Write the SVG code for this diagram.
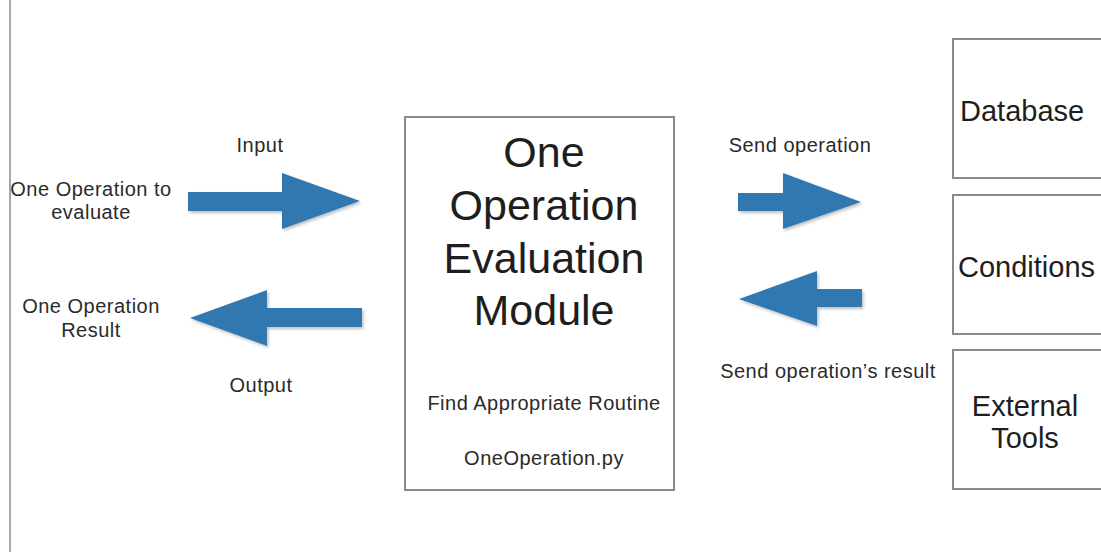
<svg xmlns="http://www.w3.org/2000/svg" width="1101" height="552" viewBox="0 0 1101 552">
  <style>
    .box { fill: #ffffff; stroke: #8a8a8a; stroke-width: 2; }
    .txt { font-family: "Liberation Sans", Arial, sans-serif; fill: #1e1e1e; }
    .sm { font-size: 20px; letter-spacing: 0.5px; fill: #2a2a2a; }
    .md { font-size: 29px; }
    .lg { font-size: 43px; }
    .mid { text-anchor: middle; }
    .arrow { fill: #3278b0; filter: url(#shade); }
  </style>
  <defs>
    <filter id="shade" x="-10%" y="-20%" width="125%" height="150%">
      <feDropShadow dx="1.5" dy="2" stdDeviation="1.5" flood-color="#000" flood-opacity="0.25"/>
    </filter>
  </defs>

  <rect width="1101" height="552" fill="#ffffff"/>

  <!-- left margin rule -->
  <line x1="10" y1="0" x2="10" y2="552" stroke="#a8a8a8" stroke-width="2"/>

  <!-- input / output endpoints -->
  <g id="operation-in">
    <text class="txt sm mid" x="91" y="196">One Operation to</text>
    <text class="txt sm mid" x="91" y="219">evaluate</text>
  </g>
  <g id="operation-out">
    <text class="txt sm mid" x="91" y="313">One Operation</text>
    <text class="txt sm mid" x="91" y="337">Result</text>
  </g>

  <!-- evaluation module -->
  <g id="module">
    <rect class="box" x="405" y="117" width="269" height="373"/>
    <text class="txt lg mid" x="544" y="167">One</text>
    <text class="txt lg mid" x="544" y="220">Operation</text>
    <text class="txt lg mid" x="544" y="273">Evaluation</text>
    <text class="txt lg mid" x="544" y="325">Module</text>
    <text class="txt sm mid" x="544" y="410">Find Appropriate Routine</text>
    <text class="txt sm mid" x="544" y="465">OneOperation.py</text>
  </g>

  <!-- back-end resources -->
  <g id="database">
    <rect class="box" x="953" y="39" width="160" height="139"/>
    <text class="txt md" x="960" y="121">Database</text>
  </g>
  <g id="conditions">
    <rect class="box" x="953" y="195" width="160" height="139"/>
    <text class="txt md" x="958" y="277">Conditions</text>
  </g>
  <g id="external-tools">
    <rect class="box" x="953" y="350" width="160" height="139"/>
    <text class="txt md mid" x="1025" y="416">External</text>
    <text class="txt md mid" x="1025" y="448">Tools</text>
  </g>

  <!-- block arrows with their labels -->
  <g id="connectors">
    <g id="input">
      <polygon class="arrow" points="188,192 282,192 282,173 360,201 282,229 282,211 188,211"/>
      <text class="txt sm mid" x="260" y="152">Input</text>
    </g>
    <g id="output">
      <polygon class="arrow" points="362,308 267,308 267,290 190,318 267,346 267,327 362,327"/>
      <text class="txt sm mid" x="261" y="392">Output</text>
    </g>
    <g id="send-operation">
      <polygon class="arrow" points="738,193 783,193 783,173 861,202 783,229 783,211 738,211"/>
      <text class="txt sm mid" x="800" y="152">Send operation</text>
    </g>
    <g id="send-result">
      <polygon class="arrow" points="862,289 817,289 817,271 739,299 817,326 817,307 862,307"/>
      <text class="txt sm mid" x="828" y="378">Send operation’s result</text>
    </g>
  </g>
</svg>
